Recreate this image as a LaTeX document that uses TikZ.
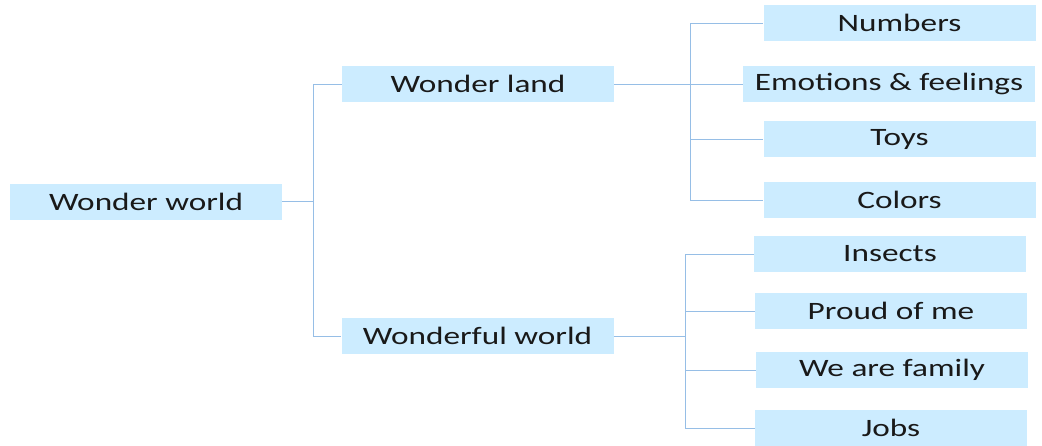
\documentclass[tikz,border=0pt]{standalone}
\usepackage{fontspec}
\newfontfamily\boxfont[FakeStretch=1.33]{Carlito}
\definecolor{boxblue}{RGB}{204,236,255}
\definecolor{linkblue}{RGB}{150,190,230}

\begin{document}
\begin{tikzpicture}[
  x=1pt, y=-1pt,
  line/.style={draw=linkblue, line width=1pt},
  topicbox/.style={
    fill=boxblue, inner sep=0pt, align=center,
    minimum width=272pt, minimum height=36pt,
    font=\boxfont\fontsize{25}{27}\selectfont, text=black!90
  }
]
\useasboundingbox (0,0) rectangle (1042,445);

% Root and branches
\node[topicbox] (root) at (146,201.5) {Wonder world};
\node[topicbox] (land) at (478,84) {Wonder land};
\node[topicbox] (wonderful) at (477.5,336) {Wonderful world};

% Children of Wonder land
\node[topicbox] (numbers) at (899.5,23) {Numbers};
\node[topicbox, minimum width=292pt] (emotions) at (889,84) {Emotions \& feelings};
\node[topicbox] (toys) at (899.5,139) {Toys};
\node[topicbox] (colors) at (899.5,200) {Colors};

% Children of Wonderful world
\node[topicbox] (insects) at (890,254) {Insects};
\node[topicbox] (proud) at (891,311) {Proud of me};
\node[topicbox] (family) at (892,370) {We are family};
\node[topicbox] (jobs) at (891,428) {Jobs};

% Root connectors
\draw[line] (root.east) -- ++(31,0) coordinate (splitR);
\draw[line] (splitR) |- (land.west);
\draw[line] (splitR) |- (wonderful.west);

% Wonder land connectors
\draw[line] (land.east) -- ++(76,0) coordinate (splitL);
\draw[line] (splitL) |- (numbers.west);
\draw[line] (splitL) |- (emotions.west);
\draw[line] (splitL) |- (toys.west);
\draw[line] (splitL) |- (colors.west);

% Wonderful world connectors
\draw[line] (wonderful.east) -- ++(72,0) coordinate (splitW);
\draw[line] (splitW) |- (insects.west);
\draw[line] (splitW) |- (proud.west);
\draw[line] (splitW) |- (family.west);
\draw[line] (splitW) |- (jobs.west);

\end{tikzpicture}
\end{document}
